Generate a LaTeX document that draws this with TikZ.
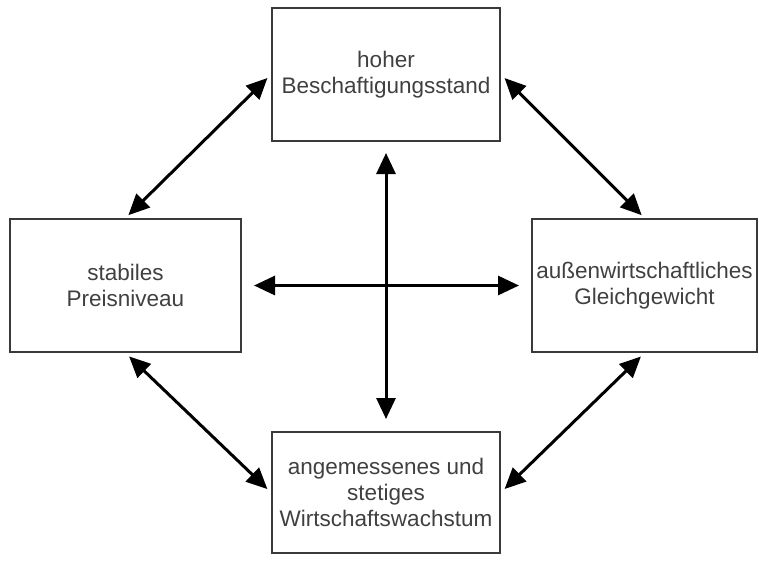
\documentclass[tikz,border=0pt]{standalone}
\usepackage{fontspec}
\setmainfont{Liberation Sans}
\usepackage{tikz}
\usetikzlibrary{
	arrows.meta,
	positioning
}
\usepackage{xcolor}
\definecolor{boxline}{HTML}{3A3A3A}
\definecolor{boxtext}{HTML}{404040}

\begin{document}
\begin{tikzpicture}[x=1pt,y=-1pt,>={Triangle[length=21pt,width=19pt]},
	goal/.style={draw=boxline,line width=2pt,inner sep=1pt,align=center,
		text=boxtext,font=\fontsize{22.5}{26}\selectfont,
		minimum height=133pt},
	link/.style={<->,line width=3pt}]
		
		\useasboundingbox (0,0) rectangle (759,563);
		
		% the four goals
		\node[goal,minimum width=228pt] (beschaeftigung) at (386,74.5) {hoher\\Beschaftigungsstand};
		\node[goal,minimum width=231pt] (preis) at (125.5,285.5) {stabiles\\Preisniveau};
		\node[goal,minimum width=225pt] (aussen) at (644.5,285.5) {außenwirtschaftliches\\Gleichgewicht};
		\node[goal,minimum width=228pt,minimum height=121pt] (wachstum) at (386,492.5) {angemessenes und\\stetiges\\Wirtschaftswachstum};
		
		% outer arrows
		\draw[link,shorten <=5pt,shorten >=4pt] (beschaeftigung.west) -- (preis.north);
		\draw[link,shorten <=5pt,shorten >=4pt] (beschaeftigung.east) -- (aussen.north);
		\draw[link,shorten <=5pt,shorten >=5pt] (preis.south) -- (wachstum.west);
		\draw[link,shorten <=5pt,shorten >=5pt] (aussen.south) -- (wachstum.east);
		
		% cross in the middle
		\draw[link,shorten <=12pt,shorten >=12pt] (preis.east) -- (aussen.west);
		\draw[link,shorten <=11pt,shorten >=12pt] (beschaeftigung.south) -- (wachstum.north);
		
	\end{tikzpicture}
\end{document}
